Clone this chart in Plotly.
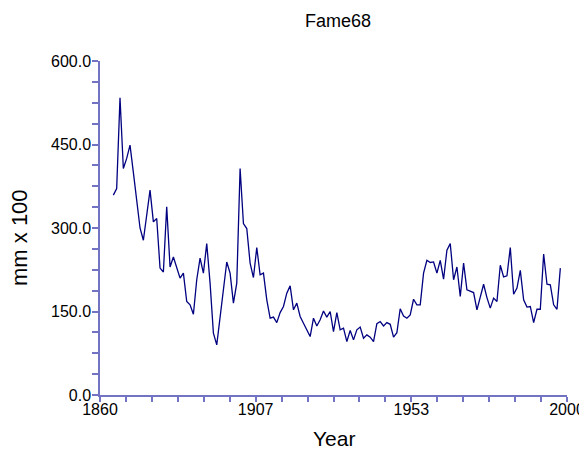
import plotly.graph_objects as go

years = list(range(1864, 1999))
values = [
    359, 371, 534, 407, 425, 449, 400, 345, 300, 278,   # 1864-1873
    326, 368, 311, 317, 228, 221, 338, 230, 248, 230,   # 1874-1883
    210, 219, 168, 162, 145, 207, 246, 219, 272, 201,   # 1884-1893
    111, 90, 141, 192, 239, 219, 165, 201, 407, 308,    # 1894-1903
    299, 237, 211, 265, 216, 219, 171, 138, 140, 130,   # 1904-1913
    148, 159, 183, 196, 153, 165, 141, 129, 118, 105,   # 1914-1923
    138, 124, 135, 151, 140, 150, 114, 148, 117, 120,   # 1924-1933
    96, 116, 99, 117, 122, 102, 108, 104, 96, 128,      # 1934-1943
    132, 124, 130, 127, 104, 112, 155, 142, 138, 144,   # 1944-1953
    172, 162, 162, 219, 242, 238, 239, 219, 242, 208,   # 1954-1963
    260, 272, 207, 230, 177, 237, 189, 187, 184, 153,   # 1964-1973
    177, 199, 175, 156, 174, 168, 233, 212, 214, 265,   # 1974-1983
    181, 192, 224, 171, 158, 159, 130, 154, 154, 253,   # 1984-1993
    199, 198, 162, 154, 228,                            # 1994-1998
]

x_tick_vals = [1860 + i * 140 / 18 for i in range(19)]
x_tick_text = ["1860" if i == 0 else "1907" if i == 6 else "1953" if i == 12 else "2000" if i == 18 else "" for i in range(19)]
y_tick_vals = [i * 37.5 for i in range(17)]
y_tick_text = [f"{v:.1f}" if i % 4 == 0 else "" for i, v in enumerate(y_tick_vals)]

axis_col = "#7373c4"
font = "Liberation Sans, Arial, sans-serif"

fig = go.Figure()
fig.add_trace(go.Scatter(x=years, y=values, mode="lines",
                         line=dict(color="#000080", width=1.3), showlegend=False))

# page body has an 8px default margin; figure is sized/offset to compensate
fig.update_layout(
    width=579, height=441,
    paper_bgcolor="white", plot_bgcolor="white",
    margin=dict(l=92, r=20, t=53, b=54, autoexpand=False),
    font=dict(family=font, size=16, color="black"),
    annotations=[
        dict(text="Fame68", xref="paper", yref="paper", x=0.5, y=1.0, yshift=40, xshift=4,
             xanchor="center", yanchor="middle", showarrow=False,
             font=dict(family=font, size=18, color="black")),
        dict(text="Year", xref="paper", yref="paper", x=0.5, y=0.0, yshift=-43,
             xanchor="center", yanchor="middle", showarrow=False,
             font=dict(family=font, size=21, color="black")),
        dict(text="mm x 100", xref="paper", yref="paper", x=0.0, y=0.5, xshift=-81, yshift=-10,
             xanchor="center", yanchor="middle", showarrow=False, textangle=-90,
             font=dict(family=font, size=22, color="black")),
    ],
)
fig.update_xaxes(range=[1860, 2000], showgrid=False, zeroline=False, automargin=False,
                 showline=True, linecolor=axis_col, linewidth=1.5,
                 ticks="outside", ticklen=5, tickcolor=axis_col, tickwidth=1.5,
                 tickmode="array", tickvals=x_tick_vals, ticktext=x_tick_text,
                 ticklabelstandoff=-6,
                 tickfont=dict(family=font, size=16, color="black"))
fig.update_yaxes(range=[0, 600], showgrid=False, zeroline=False, automargin=False,
                 showline=True, linecolor=axis_col, linewidth=1.5,
                 ticks="outside", ticklen=6, tickcolor=axis_col, tickwidth=1.5,
                 tickmode="array", tickvals=y_tick_vals, ticktext=y_tick_text,
                 ticklabelstandoff=-2,
                 tickfont=dict(family=font, size=16, color="black"))

fig.write_html("out.html")
